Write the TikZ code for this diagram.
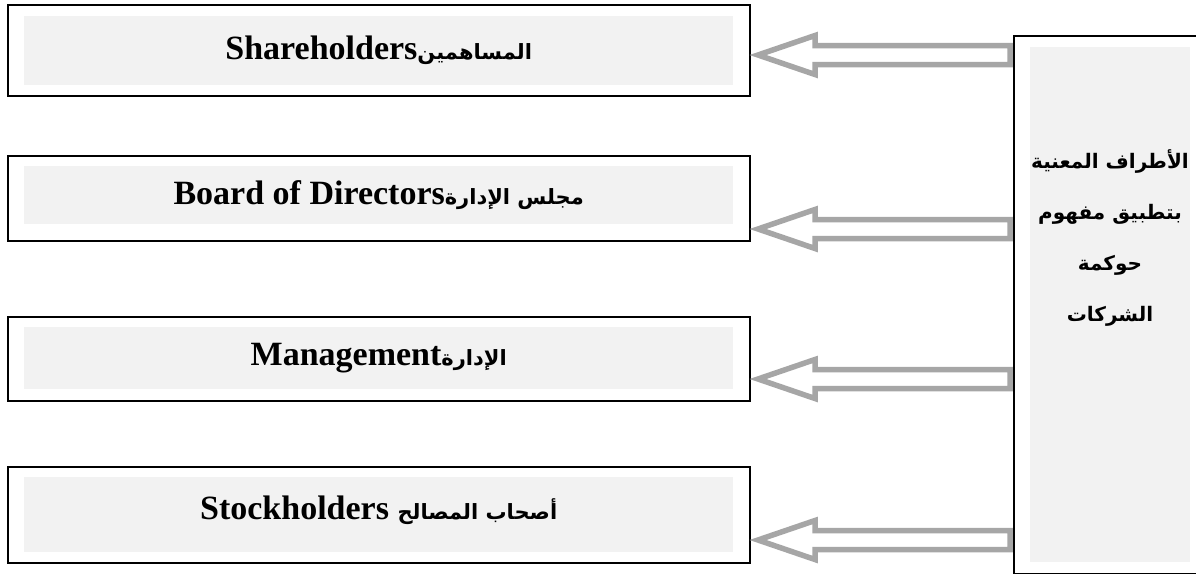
\documentclass[tikz,border=0pt]{standalone}
\usepackage{fontspec}
\setmainfont{Liberation Serif}
\newfontfamily\arabicfont[Script=Arabic]{DejaVu Sans}
\TeXXeTstate=1
\usetikzlibrary{calc}
\definecolor{boxgray}{HTML}{F2F2F2}
\definecolor{arrgray}{HTML}{A6A6A6}
\newcommand\harrow[2]{%
  \draw[hollowarrow] (#1) -- ++(57,-19.5) -- ++(0,10) -- ($(#2)+(0,-9.5)$) -- ++(0,19)
     -- ($(#1)+(57,9.5)$) -- ++(0,10) -- cycle;}
\begin{document}
\begin{tikzpicture}[x=1pt,y=-1pt,
  outerbox/.style={draw=black, line width=1.6pt, anchor=north west, inner sep=0pt},
  innerbox/.style={fill=boxgray, anchor=north west, inner sep=0pt},
  lbl/.style={font=\fontsize{34}{40}\selectfont\bfseries, inner sep=0pt},
  ar/.style={font=\fontsize{20}{51}\selectfont\arabicfont\bfseries, align=center, inner sep=0pt},
  hollowarrow/.style={draw=arrgray, line width=5.5pt, fill=white, line join=miter}]
\useasboundingbox (0,0) rectangle (1196,574);
% left boxes
\node[outerbox, minimum width=742, minimum height=91] (B1) at (7,4) {};
\node[innerbox, minimum width=709, minimum height=69] (I1) at (24,16) {};
\node[outerbox, minimum width=742, minimum height=85] (B2) at (7,155) {};
\node[innerbox, minimum width=709, minimum height=58] (I2) at (24,166) {};
\node[outerbox, minimum width=742, minimum height=84] (B3) at (7,316) {};
\node[innerbox, minimum width=709, minimum height=62] (I3) at (24,327) {};
\node[outerbox, minimum width=742, minimum height=96] (B4) at (7,466) {};
\node[innerbox, minimum width=709, minimum height=75] (I4) at (24,477) {};
\node[lbl] (T1) at (I1.center) {Shareholders{\arabicfont\fontsize{21}{26}\selectfont\beginR المساهمين\endR}};
\node[lbl] (T2) at (I2.center) {Board of Directors{\arabicfont\fontsize{21}{26}\selectfont\beginR مجلس الإدارة\endR}};
\node[lbl] (T3) at (I3.center) {Management{\arabicfont\fontsize{21}{26}\selectfont\beginR الإدارة\endR}};
\node[lbl] (T4) at ($(I4.center)+(0,-4)$) {Stockholders {\arabicfont\fontsize{21}{26}\selectfont\beginR أصحاب المصالح\endR}};
% arrows
\coordinate (a1t) at (758,55);  \coordinate (a1s) at (1010,55);
\coordinate (a2t) at (758,229); \coordinate (a2s) at (1010,229);
\coordinate (a3t) at (758,379); \coordinate (a3s) at (1010,379);
\coordinate (a4t) at (758,540); \coordinate (a4s) at (1010,540);
\harrow{a1t}{a1s}
\harrow{a2t}{a2s}
\harrow{a3t}{a3s}
\harrow{a4t}{a4s}
% right box
\node[innerbox, minimum width=160, minimum height=515] (IR) at (1030,47) {};
\node[anchor=north west, inner sep=0pt, minimum width=200, minimum height=537] (R) at (1014,36) {};
\draw[line width=1.6pt] (R.north east) -- (R.north west) -- (R.south west) -- (R.south east);
\node[ar] (TR) at (1110,238) {\beginR الأطراف المعنية\endR\\ \beginR بتطبيق مفهوم\endR\\ \beginR حوكمة\endR\\ \beginR الشركات\endR};
\end{tikzpicture}
\end{document}
